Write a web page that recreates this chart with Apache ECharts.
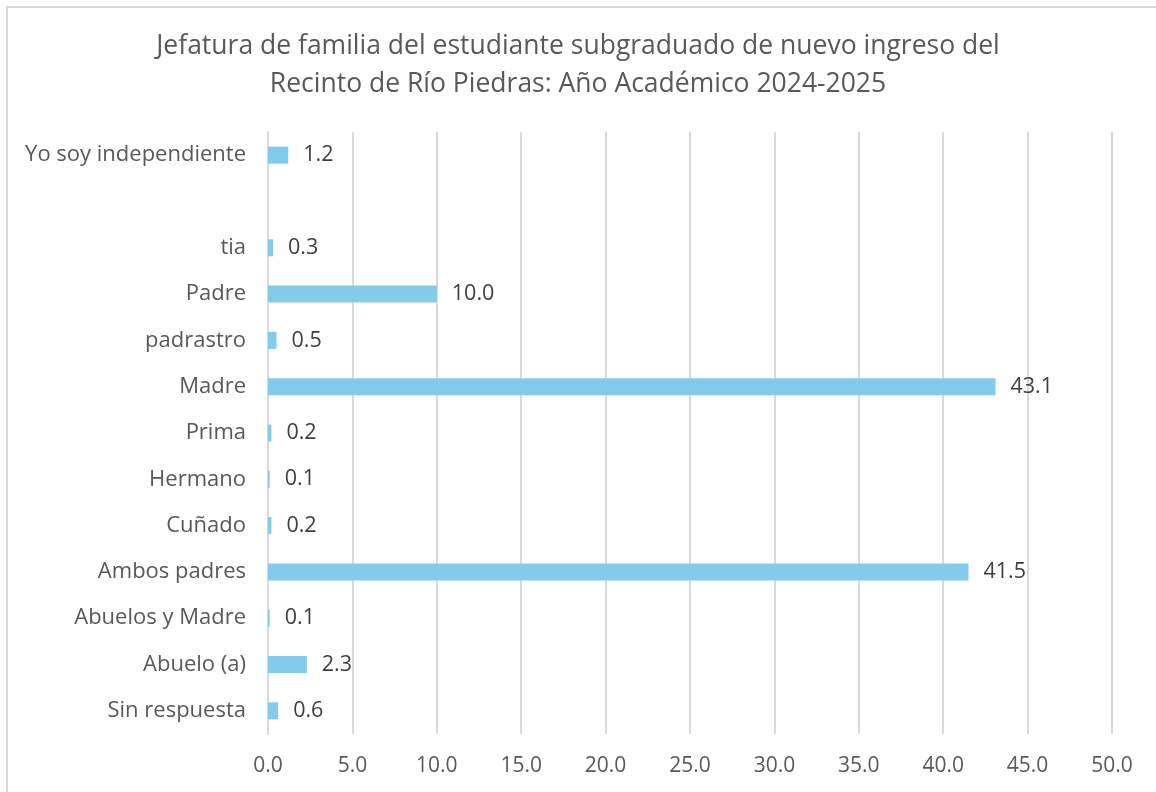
<!DOCTYPE html>
<html>
<head>
<meta charset="utf-8">
<script src="https://cdn.jsdelivr.net/npm/echarts@6/dist/echarts.min.js"></script>
<style>
html,body{margin:0;padding:0;background:#fff;}
#chart{width:1156px;height:792px;}
</style>
</head>
<body>
<div id="chart"></div>
<script>
const titleText = 'Jefatura de familia del estudiante subgraduado de nuevo ingreso del\nRecinto de Río Piedras: Año Académico 2024-2025';
const categories = ['Yo soy independiente', ' ', 'tia', 'Padre', 'padrastro', 'Madre', 'Prima', 'Hermano', 'Cuñado', 'Ambos padres', 'Abuelos y Madre', 'Abuelo (a)', 'Sin respuesta'];
const values = [1.2, null, 0.3, 10.0, 0.5, 43.1, 0.2, 0.1, 0.2, 41.5, 0.1, 2.3, 0.6];
const xTicks = {min: 0, max: 50, interval: 5};

const FONT = '"Open Sans", "Noto Sans", sans-serif';
const chart = echarts.init(document.getElementById('chart'), null, {renderer: 'canvas'});
chart.setOption({
  animation: false,
  backgroundColor: '#ffffff',
  graphic: [{
    type: 'rect',
    shape: {x: 7, y: 7, width: 1200, height: 820},
    style: {fill: 'none', stroke: '#d9d9d9', lineWidth: 2},
    silent: true
  }],
  title: {
    text: titleText,
    left: 'center',
    top: 22,
    textStyle: {fontFamily: FONT, fontSize: 26.5, fontWeight: 'normal', color: '#595959', lineHeight: 38}
  },
  grid: {left: 268, right: 44, top: 132, bottom: 58, containLabel: false},
  xAxis: {
    type: 'value',
    min: xTicks.min, max: xTicks.max, interval: xTicks.interval,
    axisLine: {show: false},
    axisTick: {show: false},
    axisLabel: {
      margin: 22, color: '#595959', fontFamily: FONT, fontSize: 21,
      formatter: v => v.toFixed(1)
    },
    splitLine: {show: true, lineStyle: {color: '#d9d9d9', width: 2}}
  },
  yAxis: {
    type: 'category',
    data: categories,
    inverse: true,
    axisLine: {show: true, lineStyle: {color: '#d9d9d9', width: 2}},
    axisTick: {show: false},
    axisLabel: {margin: 22, color: '#595959', fontFamily: FONT, fontSize: 22}
  },
  series: [{
    type: 'bar',
    data: values,
    barWidth: 17,
    itemStyle: {color: '#83cbeb'},
    label: {
      show: true,
      position: 'right',
      distance: 15,
      color: '#404040',
      fontFamily: FONT,
      fontSize: 21.5,
      formatter: p => (p.value == null ? '' : Number(p.value).toFixed(1))
    }
  }]
});
</script>
</body>
</html>
